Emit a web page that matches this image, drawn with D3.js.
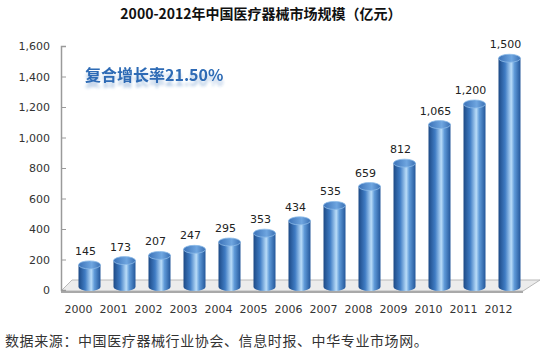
<!DOCTYPE html>
<html>
<head>
<meta charset="utf-8">
<script src="https://cdn.jsdelivr.net/npm/d3@7"></script>
<style>
  body { margin: 0; background: #fff; }
  text { font-family: "DejaVu Sans", Verdana, sans-serif; }
  .cjk { font-family: "Noto Sans CJK SC", sans-serif; }
</style>
</head>
<body>
<div id="chart"></div>
<script>
// chart data
let years = ["2000", "2001", "2002", "2003", "2004", "2005", "2006", "2007", "2008", "2009", "2010", "2011", "2012"];
let values = [145, 173, 207, 247, 295, 353, 434, 535, 659, 812, 1065, 1200, 1500];
let yTicks = [0, 200, 400, 600, 800, 1000, 1200, 1400, 1600];
let title = "2000-2012年中国医疗器械市场规模（亿元）";
let note = "复合增长率21.50%";
let source = "数据来源：中国医疗器械行业协会、信息时报、中华专业市场网。";

let width = 553, height = 353;

let svg = d3.select("#chart").append("svg")
    .attr("width", width)
    .attr("height", height);

let defs = svg.append("defs");

// cylinder shading
let grad = defs.append("linearGradient")
    .attr("id", "cyl")
    .attr("x1", "0%").attr("x2", "100%")
    .attr("y1", "0%").attr("y2", "0%");
[["0%", "#1d4a86"], ["30%", "#3f7cc4"], ["58%", "#b9dcf8"], ["72%", "#609bd9"], ["100%", "#24579a"]]
    .forEach(s => grad.append("stop").attr("offset", s[0]).attr("stop-color", s[1]));

let topGrad = defs.append("linearGradient")
    .attr("id", "cyltop")
    .attr("x1", "0%").attr("x2", "100%");
[["0%", "#3b72b8"], ["60%", "#6fa6e0"], ["100%", "#3a70b4"]]
    .forEach(s => topGrad.append("stop").attr("offset", s[0]).attr("stop-color", s[1]));

// soft glow under the growth note
let glow = defs.append("filter")
    .attr("id", "glow")
    .attr("x", "-10%").attr("y", "-50%")
    .attr("width", "120%").attr("height", "250%");
glow.append("feGaussianBlur").attr("in", "SourceGraphic").attr("stdDeviation", 1.8).attr("result", "b");
glow.append("feOffset").attr("in", "b").attr("dy", 5).attr("result", "o");
glow.append("feComponentTransfer").attr("in", "o").attr("result", "f")
    .append("feFuncA").attr("type", "linear").attr("slope", 0.35);
let merge = glow.append("feMerge");
merge.append("feMergeNode").attr("in", "f");
merge.append("feMergeNode").attr("in", "SourceGraphic");

// scales
let x = d3.scaleBand()
    .domain(years)
    .range([61, 516]);

let y = d3.scaleLinear()
    .domain([0, 1600])
    .range([290, 46]);

// 3D offset of the bars behind the axis plane
let dx = 11, dy = -3;
let barW = 22, ry = 4;

// floor
let floorFront = y(0) + 1, floorBack = y(0) - 10;
svg.append("polygon")
    .attr("points", [[61, floorFront], [523, floorFront], [540, floorBack], [72, floorBack]].join(" "))
    .attr("fill", "#ececec")
    .attr("stroke", "#b8b8b8")
    .attr("stroke-width", 1);
svg.append("line")
    .attr("x1", 61).attr("x2", 523)
    .attr("y1", floorFront + 1).attr("y2", floorFront + 1)
    .attr("stroke", "#a9a9a9")
    .attr("stroke-width", 2);

// y axis
let yAxis = d3.axisLeft(y)
    .tickValues(yTicks)
    .tickFormat(d3.format(","))
    .tickSize(-5)
    .tickPadding(11);

let yg = svg.append("g")
    .attr("transform", "translate(61,0)")
    .call(yAxis);
yg.select(".domain").attr("stroke", "#9a9a9a").attr("stroke-width", 1.5);
yg.selectAll(".tick line").attr("stroke", "#9a9a9a");
yg.selectAll(".tick text")
    .attr("fill", "#333")
    .style("font-size", "11px");

// x axis
let xAxis = d3.axisBottom(x)
    .tickSize(0)
    .tickPadding(15);

let xg = svg.append("g")
    .attr("transform", "translate(0," + y(0) + ")")
    .call(xAxis);
xg.select(".domain").remove();
xg.selectAll(".tick text")
    .attr("fill", "#333")
    .style("font-size", "11px");

// bars as cylinders
let bars = svg.selectAll("g.bar")
    .data(values)
    .enter()
    .append("g")
    .attr("class", "bar")
    .attr("transform", (d, i) => "translate(" + (x(years[i]) + x.bandwidth() / 2 + dx) + "," + dy + ")");

bars.append("path")
    .attr("d", d => {
        let t = y(d), b = y(0), w = barW / 2;
        return "M" + (-w) + "," + t +
            "L" + (-w) + "," + b +
            "A" + w + "," + ry + " 0 0 0 " + w + "," + b +
            "L" + w + "," + t + "Z";
    })
    .attr("fill", "url(#cyl)");

bars.append("ellipse")
    .attr("cx", 0)
    .attr("cy", d => y(d))
    .attr("rx", barW / 2)
    .attr("ry", ry)
    .attr("fill", "url(#cyltop)")
    .attr("stroke", "#8dbbe8")
    .attr("stroke-width", 0.8);

// value labels
svg.selectAll("text.bar-label")
    .data(values)
    .enter()
    .append("text")
    .attr("class", "bar-label")
    .attr("x", (d, i) => x(years[i]) + x.bandwidth() / 2 + dx - 4)
    .attr("y", d => y(d) + dy - 10)
    .attr("text-anchor", "middle")
    .attr("fill", "#222")
    .style("font-size", "11px")
    .text(d => d3.format(",")(d));

// title
svg.append("text")
    .attr("class", "cjk")
    .attr("x", 261)
    .attr("y", 19)
    .attr("text-anchor", "middle")
    .attr("fill", "#111")
    .style("font-size", "14px")
    .style("font-weight", "bold")
    .text(title);

// growth note
svg.append("text")
    .attr("class", "cjk")
    .attr("x", 85)
    .attr("y", 81)
    .attr("fill", "#2d6bb5")
    .attr("filter", "url(#glow)")
    .style("font-size", "16px")
    .style("font-weight", "bold")
    .text(note);

// source line
svg.append("text")
    .attr("class", "cjk")
    .attr("x", 5)
    .attr("y", 346)
    .attr("fill", "#333")
    .style("font-size", "14px")
    .style("letter-spacing", "0.6px")
    .text(source);
</script>
</body>
</html>
